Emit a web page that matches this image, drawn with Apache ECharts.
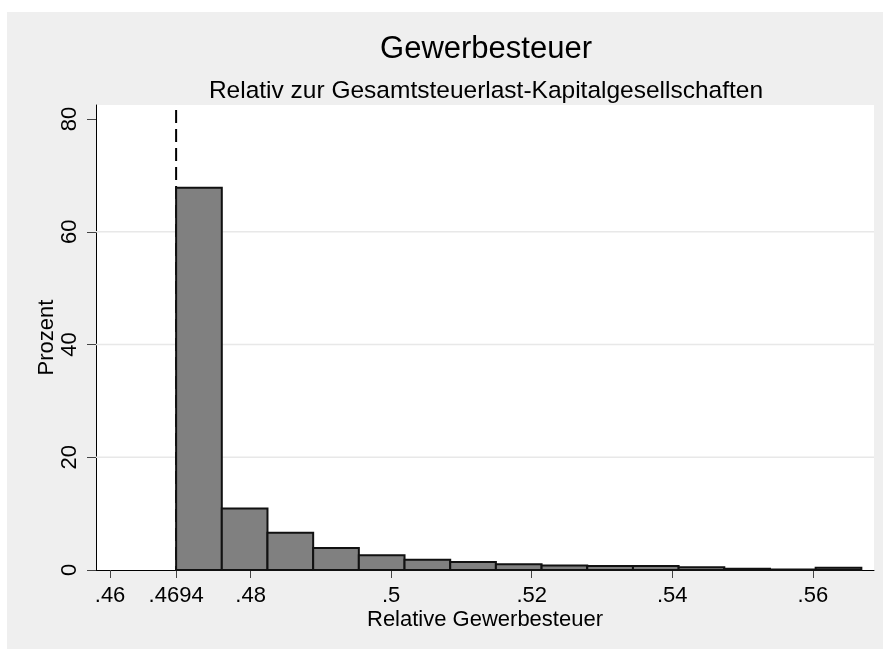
<!DOCTYPE html>
<html>
<head>
<meta charset="utf-8">
<script src="https://cdn.jsdelivr.net/npm/echarts@6/dist/echarts.min.js"></script>
<style>
  html, body { margin: 0; padding: 0; background: #fff; }
  #bg { position: absolute; left: 7px; top: 12px; right: 0; bottom: 0; background: #efefef; }
  #chart { position: absolute; left: 0; top: 0; width: 883px; height: 649px; }
</style>
</head>
<body>
<div id="bg"></div>
<div id="chart"></div>
<script>
// Histogram bins (left/right edges) and percent per bin
const binEdges = [0.4694, 0.4759, 0.4824, 0.4889, 0.4954, 0.5019, 0.5084, 0.5149,
                  0.5214, 0.5279, 0.5344, 0.5409, 0.5474, 0.5539, 0.5604, 0.5669];
const percents = [67.8, 10.9, 6.6, 3.9, 2.6, 1.8, 1.4, 1.0, 0.8, 0.7, 0.7, 0.5, 0.2, 0.1, 0.4];
const xTicks = [0.46, 0.4694, 0.48, 0.5, 0.52, 0.54, 0.56];
const yTicks = [0, 20, 40, 60, 80];
const gridValues = [20, 40, 60];
const refLine = [0.4694];

const font = '"Liberation Sans", Arial, sans-serif';

const chart = echarts.init(document.getElementById('chart'));

const bins = percents.map((p, i) => [binEdges[i], binEdges[i + 1], p]);

const option = {
  animation: false,
  title: [
    {
      text: 'Gewerbesteuer',
      left: 481, top: 29, textAlign: 'center',
      textStyle: { fontSize: 31, fontWeight: 'normal', color: '#000', fontFamily: font }
    },
    {
      text: 'Relativ zur Gesamtsteuerlast-Kapitalgesellschaften',
      left: 481, top: 74, textAlign: 'center',
      textStyle: { fontSize: 24.5, fontWeight: 'normal', color: '#000', fontFamily: font }
    }
  ],
  grid: {
    left: 96, right: 9, top: 105, bottom: 79,
    show: true, backgroundColor: '#fff', borderWidth: 0
  },
  xAxis: {
    type: 'value',
    min: 0.458, max: 0.5687,
    name: 'Relative Gewerbesteuer',
    nameLocation: 'middle',
    nameGap: 39,
    nameMoveOverlap: false,
    nameTextStyle: { fontSize: 22, color: '#000', fontFamily: font },
    axisLine: { lineStyle: { color: '#000', width: 1 } },
    axisTick: { customValues: xTicks, length: 8, lineStyle: { color: '#444' } },
    axisLabel: {
      customValues: xTicks,
      margin: 15,
      fontSize: 22, color: '#000', fontFamily: font,
      formatter: v => String(v).replace(/^0/, '')
    },
    splitLine: { show: false }
  },
  yAxis: {
    type: 'value',
    min: 0, max: 82.5,
    name: 'Prozent',
    nameLocation: 'middle',
    nameRotate: 90,
    nameGap: 38,
    nameMoveOverlap: false,
    nameTextStyle: { fontSize: 22, color: '#000', fontFamily: font },
    axisLine: { show: true, lineStyle: { color: '#000', width: 1 } },
    axisTick: { show: true, customValues: yTicks, length: 9, lineStyle: { color: '#444' } },
    axisLabel: {
      customValues: yTicks,
      rotate: 90,
      margin: 15,
      fontSize: 22, color: '#000', fontFamily: font
    },
    splitLine: { show: false }
  },
  series: [
    {
      // horizontal grid lines, under the bars
      type: 'custom',
      z: 1,
      silent: true,
      data: gridValues,
      encode: { y: 0 },
      renderItem: (params, api) => {
        const cs = params.coordSys;
        const y = api.coord([0.5, api.value(0)])[1];
        return {
          type: 'line',
          shape: { x1: cs.x, y1: y, x2: cs.x + cs.width, y2: y },
          style: { stroke: '#e8e8e8', lineWidth: 1.5 }
        };
      }
    },
    {
      // dashed reference line (xline)
      type: 'custom',
      z: 1.5,
      silent: true,
      data: refLine,
      encode: { x: 0 },
      renderItem: (params, api) => {
        const cs = params.coordSys;
        const x = api.coord([api.value(0), 0])[0];
        return {
          type: 'line',
          shape: { x1: x, y1: cs.y + 5, x2: x, y2: cs.y + cs.height },
          style: { stroke: '#000', lineWidth: 2, lineDash: [13, 6] }
        };
      }
    },
    {
      type: 'custom',
      z: 2,
      data: bins,
      encode: { x: [0, 1], y: 2 },
      renderItem: (params, api) => {
        const p0 = api.coord([api.value(0), api.value(2)]);
        const p1 = api.coord([api.value(1), 0]);
        return {
          type: 'rect',
          shape: { x: p0[0], y: p0[1], width: p1[0] - p0[0], height: p1[1] - p0[1] },
          style: { fill: '#808080', stroke: '#111', lineWidth: 2 }
        };
      }
    }
  ]
};

chart.setOption(option);
window.addEventListener('resize', () => chart.resize());
</script>
</body>
</html>
